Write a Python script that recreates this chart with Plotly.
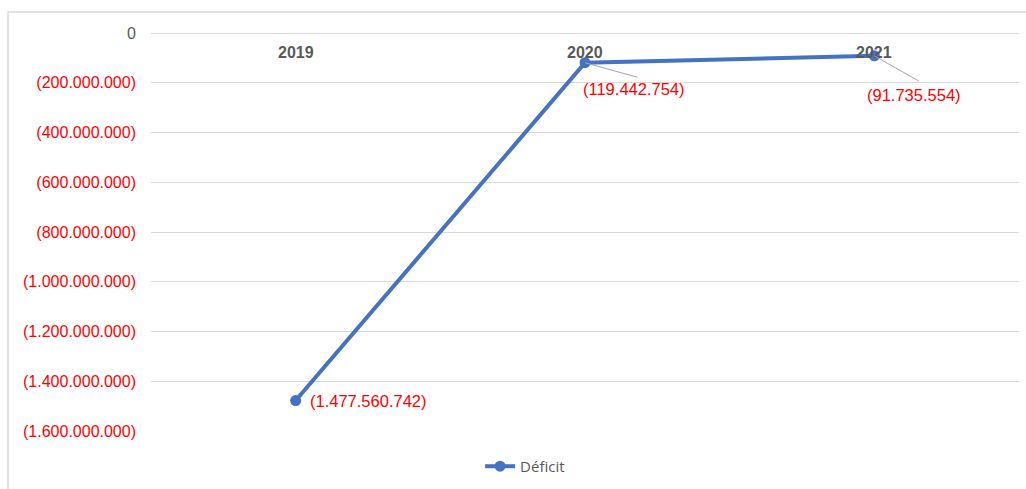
import plotly.graph_objects as go

# Annual deficit figures
years = ["2019", "2020", "2021"]
deficit = [-1477560742, -119442754, -91735554]
series_name = "Déficit"

# Y axis ticks
tick_values = [0, -200000000, -400000000, -600000000, -800000000,
               -1000000000, -1200000000, -1400000000, -1600000000]


def fmt_amount(v):
    """Thousands separated with dots, negatives in parentheses."""
    s = f"{abs(int(round(v))):,}".replace(",", ".")
    return f"({s})" if v < 0 else s


def tick_label(v):
    s = fmt_amount(v)
    if v < 0:
        return f"<span style='color:#FF0000'>{s}</span>"
    return s


BLUE = "#4472C4"
RED = "#FF0000"
GRID = "#D9D9D9"
GREY_TXT = "#595959"

W, H = 1026, 489
ML, MR, MT, MB = 151, 7, 33, 57
PW = W - ML - MR
PH = H - MT - MB

fig = go.Figure()
fig.add_trace(go.Scatter(
    x=years, y=deficit, name=series_name, mode="lines+markers",
    line=dict(color=BLUE, width=4),
    marker=dict(color=BLUE, size=11),
    showlegend=True,
))

# category labels drawn just under the zero line
for i, yr in enumerate(years):
    fig.add_annotation(
        x=i, y=0, xref="x", yref="y", yanchor="top", yshift=-9,
        text=f"<b>{yr}</b>", showarrow=False,
        font=dict(family="Liberation Sans, Arial", size=16, color=GREY_TXT),
    )

# leader lines from the points towards their labels
leaders = [None, (54, 15), (46, 26)]
for i, (v, ld) in enumerate(zip(deficit, leaders)):
    if ld is None:
        continue
    fig.add_annotation(
        x=i, y=v, xref="x", yref="y", text=" ", showarrow=True,
        ax=ld[0], ay=ld[1], arrowhead=0, arrowwidth=1, arrowcolor="#A6A6A6",
        font=dict(size=1),
    )

# data labels
text_offsets = [(12, 0), (-4, 26), (-9, 39)]
for i, (v, (tx, ty)) in enumerate(zip(deficit, text_offsets)):
    fig.add_annotation(
        x=i, y=v, xref="x", yref="y", text=fmt_amount(v), showarrow=False,
        xanchor="left", yanchor="middle", xshift=tx, yshift=-ty,
        font=dict(family="Liberation Sans, Arial", size=16.5, color=RED),
    )

fig.update_layout(
    width=W, height=H,
    margin=dict(l=ML, r=MR, t=MT, b=MB),
    paper_bgcolor="white", plot_bgcolor="white",
    showlegend=True,
    legend=dict(
        orientation="h", x=0.431, xanchor="center", y=-0.045, yanchor="top",
        font=dict(family="Open Sans, Noto Sans", size=15, color=GREY_TXT),
    ),
    xaxis=dict(
        type="category", range=[-0.5, 2.5], showticklabels=False,
        showgrid=False, zeroline=False, showline=False, ticks="",
    ),
    yaxis=dict(
        range=[-1600000000, 0], tickvals=tick_values,
        ticktext=[tick_label(v) for v in tick_values],
        tickfont=dict(family="Liberation Sans, Arial", size=16, color=GREY_TXT),
        showgrid=True, gridcolor=GRID, gridwidth=1,
        zeroline=True, zerolinecolor=GRID, zerolinewidth=1,
        showline=False, ticks="", ticklabelstandoff=14,
    ),
    shapes=[dict(
        type="rect", xref="paper", yref="paper",
        x0=(8 - ML) / PW, x1=(W + 10 - ML) / PW,
        y0=-(H + 10 - MT - PH) / PH, y1=1 + (MT - 12) / PH,
        line=dict(color=GRID, width=1.5), fillcolor="rgba(0,0,0,0)", layer="below",
    )],
)

fig.write_html("out.html")
